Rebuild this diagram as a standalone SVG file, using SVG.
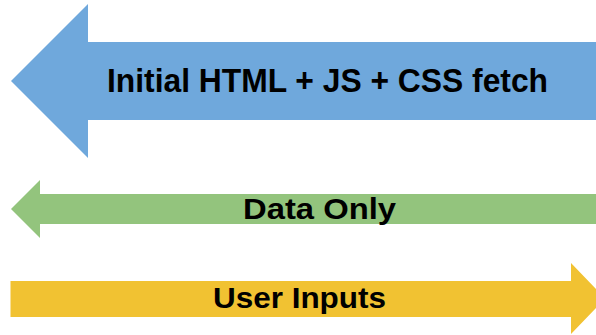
<svg xmlns="http://www.w3.org/2000/svg" width="596" height="335" viewBox="0 0 596 335">
<style>
.lbl{font-family:"Liberation Sans",Arial,sans-serif;font-weight:bold;fill:#000;text-anchor:middle}
</style>
<rect width="596" height="335" fill="#fff"/>
<g id="connectors">
<g id="fetch">
<polygon points="596,42 88,42 88,4 11,81 88,158 88,120 596,120" fill="#6fa8dc"/>
<text class="lbl" x="327.5" y="92" font-size="32.5" textLength="441" lengthAdjust="spacingAndGlyphs">Initial HTML + JS + CSS fetch</text>
</g>
<g id="data">
<polygon points="596,194 40,194 40,180 11,209 40,238 40,224 596,224" fill="#93c47d"/>
<text class="lbl" x="319.5" y="219" font-size="29.5" textLength="153" lengthAdjust="spacingAndGlyphs">Data Only</text>
</g>
<g id="inputs">
<polygon points="10.5,281 571,281 571,263 605,298.5 571,334 571,317 10.5,317" fill="#f1c232"/>
<text class="lbl" x="299.5" y="307.5" font-size="29.5" textLength="173" lengthAdjust="spacingAndGlyphs">User Inputs</text>
</g>
</g>
</svg>
